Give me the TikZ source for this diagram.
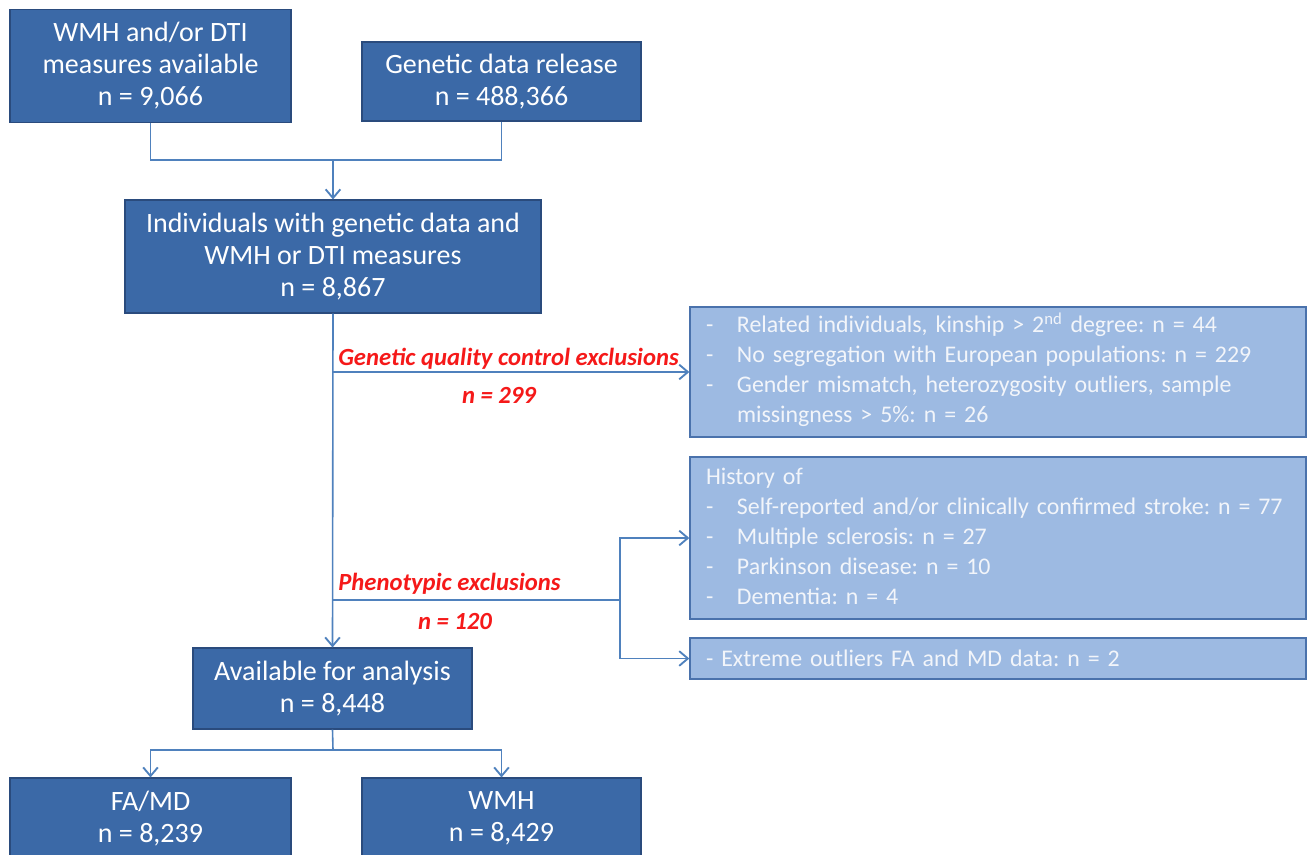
\documentclass[tikz,border=0pt]{standalone}
\usepackage{fontspec}
\setmainfont{Carlito}
\usetikzlibrary{arrows.meta}
\definecolor{Oscuro}{RGB}{59,105,167}
\definecolor{BordeO}{RGB}{42,75,125}
\definecolor{Claro}{RGB}{157,186,226}
\definecolor{BordeC}{RGB}{74,114,172}
\definecolor{TextoC}{RGB}{242,245,250}
\definecolor{Linea}{RGB}{79,129,189}
\definecolor{Rojo}{RGB}{245,25,25}

\tikzset{
  caja/.style={draw=BordeO, fill=Oscuro, text=white, line width=0.8pt,
    align=center, inner sep=0pt, font=\fontsize{21}{24}\selectfont},
  excl/.style={draw=BordeC, fill=Claro, text=TextoC, line width=1pt,
    inner xsep=12pt, inner ysep=0pt, minimum width=462pt, text width=438pt,
    align=left, font=\fontsize{17.9}{22.5}\selectfont},
  linea/.style={draw=Linea, line width=1.2pt},
  flecha/.style={linea, -{Straight Barb[length=6.5pt,width=11pt,line width=1.4pt]}},
  rojo/.style={text=Rojo, inner sep=0pt, font=\fontsize{18.5}{21}\selectfont\bfseries\itshape}
}

\begin{document}
\frenchspacing
\begin{tikzpicture}[x=0.75pt,y=-0.75pt]
    \useasboundingbox (0,0) rectangle (1309,855);

    %Cajas de arriba
    \node[caja, minimum width=210.75pt, minimum height=84.75pt] (wmh) at (150.5,66)
        {WMH and/or DTI\\measures available\\n = 9,066};
    \node[caja, minimum width=209.25pt, minimum height=59.25pt] (gen) at (501.5,81.5)
        {Genetic data release\\n = 488,366};

    %Individuos con datos
    \node[caja, minimum width=312pt, minimum height=84.75pt] (ind) at (333,256.5)
        {Individuals with genetic data and\\WMH or DTI measures\\n = 8,867};

    %Disponibles para el analisis
    \node[caja, minimum width=209.25pt, minimum height=60.75pt] (disp) at (332.5,688.5)
        {Available for analysis\\n = 8,448};

    %Cajas de abajo (cortadas por el borde)
    \node[caja, minimum width=210.75pt, minimum height=60.75pt] (famd) at (150.5,818.5)
        {FA/MD\\n = 8,239};
    \node[caja, minimum width=209.25pt, minimum height=60.75pt] (wmhf) at (501.5,818.5)
        {WMH\\n = 8,429};

    %Exclusiones geneticas
    \node[excl, minimum height=97.5pt] (excA) at (998,372)
        {\begin{tabular}{@{}p{23.25pt}@{}l@{}}
        - & Related individuals, kinship > 2\textsuperscript{nd} degree: n = 44\\
        - & No segregation with European populations: n = 229\\
        - & Gender mismatch, heterozygosity outliers, sample\\
          & missingness > 5\%: n = 26
        \end{tabular}};

    %Exclusiones fenotipicas
    \node[excl, minimum height=121.5pt] (excB) at (998,538)
        {\begin{tabular}{@{}p{23.25pt}@{}l@{}}
        \multicolumn{2}{@{}l@{}}{History of}\\
        - & Self-reported and/or clinically confirmed stroke: n = 77\\
        - & Multiple sclerosis: n = 27\\
        - & Parkinson disease: n = 10\\
        - & Dementia: n = 4
        \end{tabular}};
    \node[excl, minimum height=30.75pt] (excC) at (998,658.5)
        {- Extreme outliers FA and MD data: n = 2};

    %Puntos de union
    \coordinate (j1) at (333,160);
    \coordinate (g1) at (333,372);
    \coordinate (p1) at (333,600);
    \coordinate (p2) at (620,600);
    \coordinate (j2) at (333,750);

    %Conectores
    \draw[linea] (wmh.south) |- (j1) -| (gen.south);
    \draw[flecha] (j1) -- (ind.north);
    \draw[flecha] (ind.south) -- (disp.north);
    \draw[flecha] (g1) -- (excA.west);
    \draw[linea] (p1) -- (p2);
    \draw[flecha] (p2) |- (excB.west);
    \draw[flecha] (p2) |- (excC.west);
    \draw[linea] (disp.south) -- (j2);
    \draw[flecha] (j2) -| (famd.north);
    \draw[flecha] (j2) -| (wmhf.north);

    %Etiquetas rojas
    \node[rojo, anchor=base west] (tgen) at (338,365) {Genetic quality control exclusions};
    \node[rojo, anchor=base] (ngen) at (499,403) {n = 299};
    \node[rojo, anchor=base west] (tfen) at (338,590) {Phenotypic exclusions};
    \node[rojo, anchor=base] (nfen) at (455,629) {n = 120};
\end{tikzpicture}
\end{document}
